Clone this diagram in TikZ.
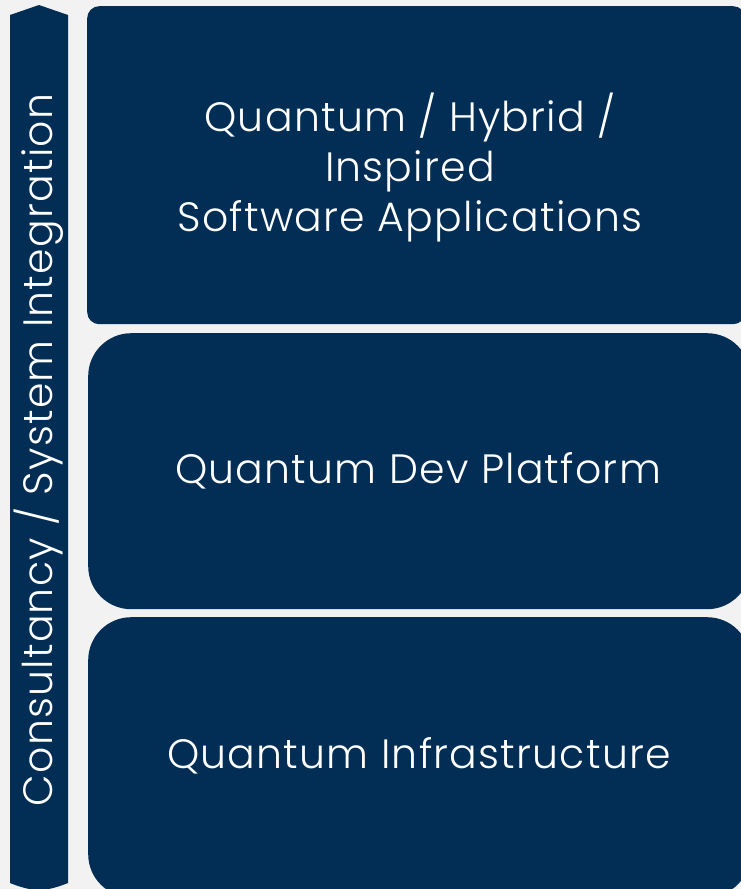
\documentclass[tikz,border=0pt]{standalone}
\usepackage{fontspec}
\newfontfamily\boxfont{Poppins Light}[LetterSpace=3]
\definecolor{navy}{HTML}{022E55}
\definecolor{bg}{HTML}{F2F2F2}
\begin{document}
\begin{tikzpicture}[x=1pt,y=-1pt,
  layer/.style={fill=navy,draw=none,anchor=north west,inner sep=0pt},
  lbl/.style={text=white,font=\boxfont\fontsize{41}{50}\selectfont,align=center,inner sep=0pt}]
\fill[bg] (0,0) rectangle (741,889);
\useasboundingbox (0,0) rectangle (741,889);
\begin{scope}
\clip (0,0) rectangle (741,889);
% left bar
\fill[navy] (10,15) -- (39,5) -- (68,15) -- (68,883) .. controls (58,887) and (48,890) .. (39,890) .. controls (30,890) and (20,887) .. (10,883) -- cycle;
\node[lbl,rotate=90] (side) at (39,450) {Consultancy / System Integration};
% boxes
\node[layer,rounded corners=12pt,minimum width=658pt,minimum height=318pt] (top) at (87,6) {};
\node[layer,rounded corners=43pt,minimum width=662pt,minimum height=276pt] (mid) at (88,333) {};
\node[layer,rounded corners=43pt,minimum width=662pt,minimum height=280pt] (bot) at (88,617) {};
\node[lbl] (toptext) at (410,168) {Quantum / Hybrid /\\Inspired\\Software Applications};
\node[lbl] (midtext) at (418,471) {Quantum Dev Platform};
\node[lbl] (bottext) at (419,756) {Quantum Infrastructure};
\end{scope}
\end{tikzpicture}
\end{document}
